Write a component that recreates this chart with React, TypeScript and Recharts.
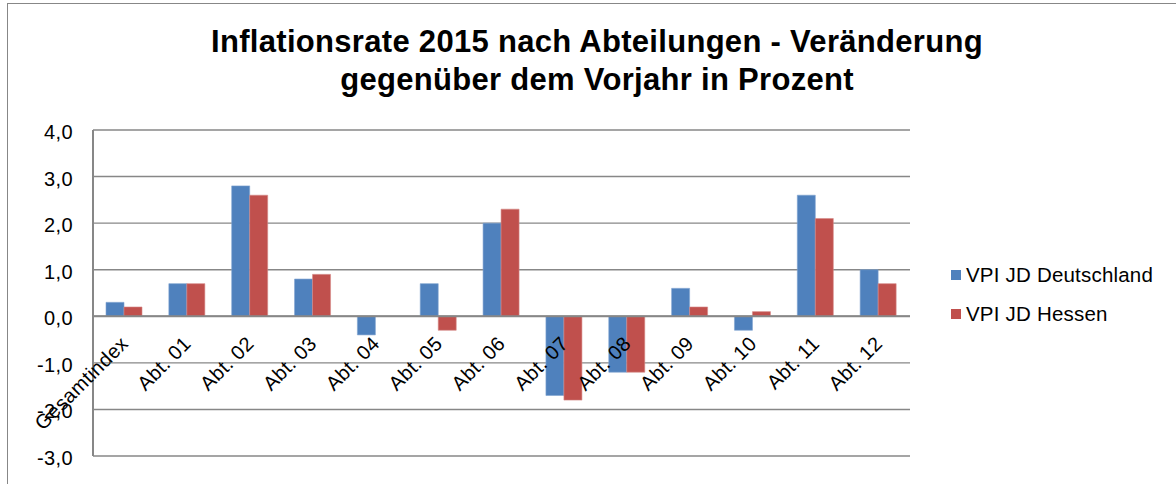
import React from "react";
import { BarChart, Bar, XAxis, YAxis, CartesianGrid, ReferenceLine, Legend } from "recharts";

const categories = [
  "Gesamtindex", "Abt. 01", "Abt. 02", "Abt. 03", "Abt. 04", "Abt. 05", "Abt. 06",
  "Abt. 07", "Abt. 08", "Abt. 09", "Abt. 10", "Abt. 11", "Abt. 12",
];
const deutschland = [0.3, 0.7, 2.8, 0.8, -0.4, 0.7, 2.0, -1.7, -1.2, 0.6, -0.3, 2.6, 1.0];
const hessen = [0.2, 0.7, 2.6, 0.9, 0.0, -0.3, 2.3, -1.8, -1.2, 0.2, 0.1, 2.1, 0.7];
const yTicks = [-3, -2, -1, 0, 1, 2, 3, 4];
const seriesNames = ["VPI JD Deutschland", "VPI JD Hessen"];
const titleLines = [
  "Inflationsrate 2015 nach Abteilungen - Veränderung",
  "gegenüber dem Vorjahr in Prozent",
];

const data = categories.map((c, i) => ({ name: c, de: deutschland[i], he: hessen[i] }));

const BLUE = "#4F81BD";
const RED = "#C0504D";
const GRID = "#878787";
const FONT = "'Liberation Sans', Arial, Helvetica, sans-serif";

const W = 1176;
const H = 484;
const LEGEND_W = 220;
const M = { top: 130, right: 266 - LEGEND_W, bottom: 27, left: 0 };
const Y_MIN = -3;
const Y_MAX = 4;
const plotH = H - M.top - M.bottom;
const zeroFromBottom = (plotH * (0 - Y_MIN)) / (Y_MAX - Y_MIN);

const fmt = (v: number) => v.toFixed(1).replace(".", ",");

const XTick = (props: any) => {
  const { x, y, payload } = props;
  const ay = y - zeroFromBottom + 27;
  const ax = x + 5;
  return (
    <text
      x={ax}
      y={ay}
      transform={`rotate(-45, ${ax}, ${ay})`}
      textAnchor="end"
      fontSize={20}
      letterSpacing={0.4}
      fontFamily={FONT}
      fill="#000"
    >
      {payload.value}
    </text>
  );
};

const YTick = (props: any) => {
  const { x, y, payload } = props;
  return (
    <text x={x} y={y + 9} textAnchor="end" fontSize={20} letterSpacing={0.4} fontFamily={FONT} fill="#000">
      {fmt(payload.value)}
    </text>
  );
};

const LegendContent = () => (
  <div style={{ fontFamily: FONT, fontSize: 20.5, letterSpacing: 0.2, color: "#000" }}>
    {seriesNames.map((n, i) => (
      <div key={n} style={{ display: "flex", alignItems: "center", height: 38.5 }}>
        <span
          style={{
            display: "inline-block",
            width: 10,
            height: 10,
            background: i === 0 ? BLUE : RED,
            marginRight: 5,
          }}
        />
        <span>{n}</span>
      </div>
    ))}
  </div>
);

export default function App() {
  return (
    <div style={{ position: "absolute", left: 0, top: 0, width: W, height: H, background: "#fff", overflow: "hidden" }}>
      <div
        style={{
          position: "absolute",
          left: 7,
          top: 3,
          width: W,
          height: H,
          borderLeft: `1.5px solid ${GRID}`,
          borderTop: `1.5px solid ${GRID}`,
        }}
      />
      <svg width={W} height={110} style={{ position: "absolute", left: 0, top: 0 }}>
        {titleLines.map((t, i) => (
          <text
            key={i}
            x={597}
            y={52 + i * 38}
            textAnchor="middle"
            fontFamily={FONT}
            fontWeight="bold"
            fontSize={31}
            letterSpacing={0.3}
            fill="#000"
          >
            {t}
          </text>
        ))}
      </svg>
      <div style={{ position: "absolute", left: 0, top: 0 }}>
        <BarChart width={W} height={H} data={data} margin={M} barGap={0} barSize={18}>
          <CartesianGrid vertical={false} stroke={GRID} strokeWidth={1.4} />
          <XAxis
            dataKey="name"
            height={1}
            axisLine={false}
            tickLine={false}
            tickSize={0}
            interval={0}
            tick={<XTick />}
          />
          <YAxis
            width={93}
            domain={[Y_MIN, Y_MAX]}
            ticks={yTicks}
            interval={0}
            axisLine={{ stroke: GRID, strokeWidth: 2 }}
            tickLine={false}
            tickSize={0}
            tickMargin={20}
            tick={<YTick />}
          />
          <ReferenceLine y={0} stroke={GRID} strokeWidth={2} />
          <Legend
            layout="vertical"
            verticalAlign="top"
            align="right"
            width={LEGEND_W}
            wrapperStyle={{ position: "absolute", left: 951, top: 256, width: LEGEND_W }}
            content={<LegendContent />}
          />
          <Bar dataKey="de" name={seriesNames[0]} fill={BLUE} stroke="#7fa3d0" strokeWidth={0.6} isAnimationActive={false} />
          <Bar dataKey="he" name={seriesNames[1]} fill={RED} stroke="#d58a88" strokeWidth={0.6} isAnimationActive={false} />
        </BarChart>
      </div>
    </div>
  );
}
